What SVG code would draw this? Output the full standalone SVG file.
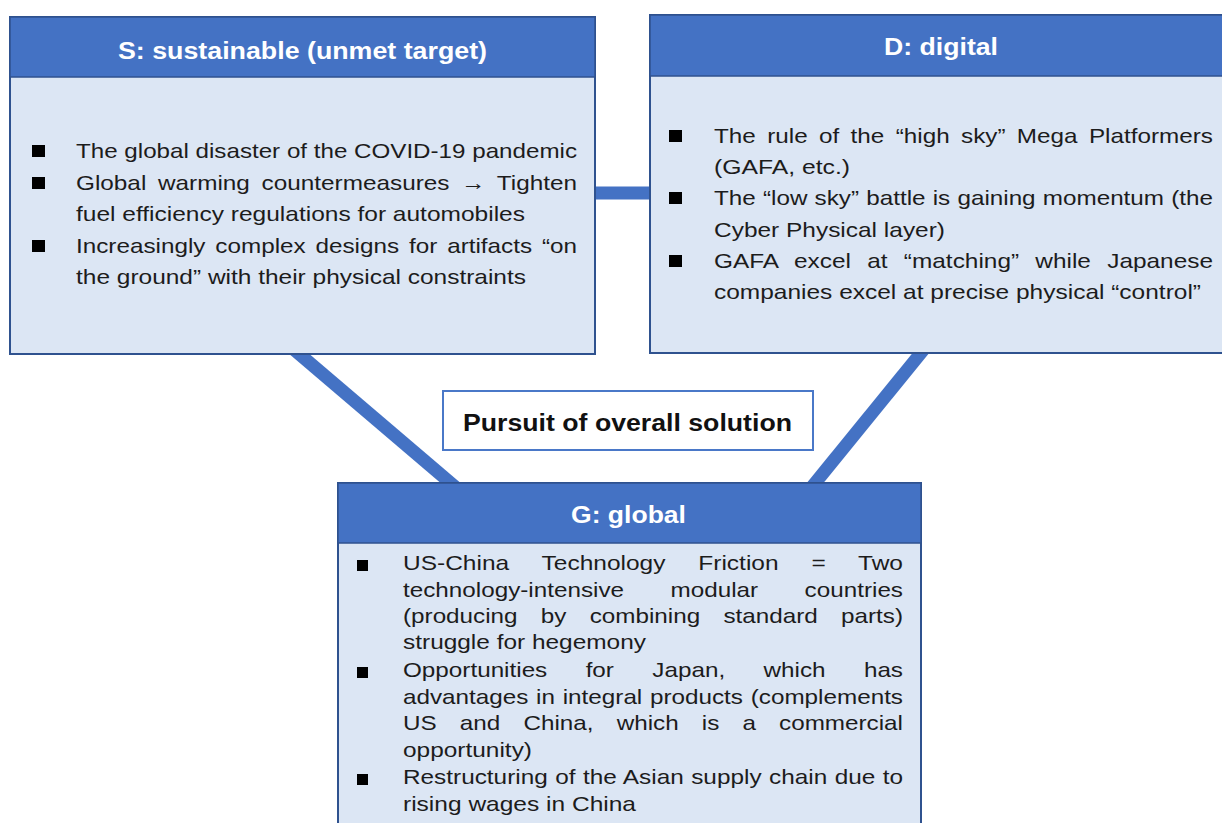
<svg xmlns="http://www.w3.org/2000/svg" width="1222" height="823" viewBox="0 0 1222 823">
<style>
.hdr{fill:#4472C4;stroke:#2F528F;stroke-width:1.5}
.body{fill:#DCE6F4;stroke:#2F528F;stroke-width:2}
.ht{font-family:"Liberation Sans",Arial,sans-serif;font-weight:bold;font-size:23px;fill:#ffffff}
.t{font-family:"Liberation Sans",Arial,sans-serif;font-size:21px;fill:#1c1c1c}
.b{fill:#000000}
.conn{stroke:#4472C4;stroke-width:13;fill:none}
</style>
<rect x="0" y="0" width="1222" height="823" fill="#ffffff"/>
<g id="connectors">
<line class="conn" x1="560" y1="193" x2="700" y2="193"/>
<line class="conn" x1="236" y1="300" x2="494" y2="520"/>
<line class="conn" x1="964" y1="300" x2="785" y2="520"/>
</g>
<g id="node-S">
<rect class="body" x="10" y="17" width="585" height="337"/>
<rect class="hdr" x="10" y="17" width="585" height="60"/>
<text class="ht" x="118" y="59" textLength="369" lengthAdjust="spacingAndGlyphs">S: sustainable (unmet target)</text>
<rect class="b" x="32" y="145" width="13" height="12"/>
<rect class="b" x="32" y="177" width="13" height="12"/>
<rect class="b" x="32" y="240" width="13" height="12"/>
<text class="t" x="76" y="158" textLength="501" lengthAdjust="spacingAndGlyphs">The global disaster of the COVID-19 pandemic</text>
<text class="t" x="76" y="190" textLength="501" lengthAdjust="spacingAndGlyphs" style="word-spacing:4.3px">Global warming countermeasures → Tighten</text>
<text class="t" x="76" y="221" textLength="449" lengthAdjust="spacingAndGlyphs">fuel efficiency regulations for automobiles</text>
<text class="t" x="76" y="253" textLength="501" lengthAdjust="spacingAndGlyphs" style="word-spacing:2.7px">Increasingly complex designs for artifacts “on</text>
<text class="t" x="76" y="284" textLength="450" lengthAdjust="spacingAndGlyphs">the ground” with their physical constraints</text>
</g>
<g id="node-D">
<rect class="body" x="650" y="15" width="580" height="338"/>
<rect class="hdr" x="650" y="15" width="580" height="61"/>
<text class="ht" x="884" y="55" textLength="114" lengthAdjust="spacingAndGlyphs">D: digital</text>
<rect class="b" x="669" y="130" width="13" height="12"/>
<rect class="b" x="669" y="192" width="13" height="12"/>
<rect class="b" x="669" y="255" width="13" height="12"/>
<text class="t" x="714" y="143" textLength="499" lengthAdjust="spacingAndGlyphs" style="word-spacing:4px">The rule of the “high sky” Mega Platformers</text>
<text class="t" x="714" y="174" textLength="136" lengthAdjust="spacingAndGlyphs">(GAFA, etc.)</text>
<text class="t" x="714" y="205" textLength="499" lengthAdjust="spacingAndGlyphs" style="word-spacing:0.4px">The “low sky” battle is gaining momentum (the</text>
<text class="t" x="714" y="237" textLength="231" lengthAdjust="spacingAndGlyphs">Cyber Physical layer)</text>
<text class="t" x="714" y="268" textLength="499" lengthAdjust="spacingAndGlyphs" style="word-spacing:8.2px">GAFA excel at “matching” while Japanese</text>
<text class="t" x="714" y="299" textLength="487" lengthAdjust="spacingAndGlyphs">companies excel at precise physical “control”</text>
</g>
<g id="node-pursuit">
<rect x="443" y="391" width="370" height="59" fill="#ffffff" stroke="#4A78C8" stroke-width="2"/>
<text x="463" y="431" textLength="329" lengthAdjust="spacingAndGlyphs" style="font-family:'Liberation Sans',Arial,sans-serif;font-weight:bold;font-size:23px;fill:#111111">Pursuit of overall solution</text>
</g>
<g id="node-G">
<rect class="body" x="338" y="483" width="583" height="360"/>
<rect class="hdr" x="338" y="483" width="583" height="60"/>
<text class="ht" x="571" y="523" textLength="115" lengthAdjust="spacingAndGlyphs">G: global</text>
<rect class="b" x="357" y="560" width="11" height="11"/>
<rect class="b" x="357" y="667" width="11" height="11"/>
<rect class="b" x="357" y="774" width="11" height="11"/>
<text class="t" x="403" y="570" textLength="500" lengthAdjust="spacingAndGlyphs" style="word-spacing:22.3px">US-China Technology Friction = Two</text>
<text class="t" x="403" y="597" textLength="500" lengthAdjust="spacingAndGlyphs" style="word-spacing:34.4px">technology-intensive modular countries</text>
<text class="t" x="403" y="623" textLength="500" lengthAdjust="spacingAndGlyphs" style="word-spacing:14.3px">(producing by combining standard parts)</text>
<text class="t" x="403" y="649" textLength="243" lengthAdjust="spacingAndGlyphs">struggle for hegemony</text>
<text class="t" x="403" y="677" textLength="500" lengthAdjust="spacingAndGlyphs" style="word-spacing:27.4px">Opportunities for Japan, which has</text>
<text class="t" x="403" y="704" textLength="500" lengthAdjust="spacingAndGlyphs" style="word-spacing:0.85px">advantages in integral products (complements</text>
<text class="t" x="403" y="730" textLength="500" lengthAdjust="spacingAndGlyphs" style="word-spacing:14.2px">US and China, which is a commercial</text>
<text class="t" x="403" y="757" textLength="129" lengthAdjust="spacingAndGlyphs">opportunity)</text>
<text class="t" x="403" y="784" textLength="500" lengthAdjust="spacingAndGlyphs" style="word-spacing:0.6px">Restructuring of the Asian supply chain due to</text>
<text class="t" x="403" y="811" textLength="233" lengthAdjust="spacingAndGlyphs">rising wages in China</text>
</g>
</svg>
